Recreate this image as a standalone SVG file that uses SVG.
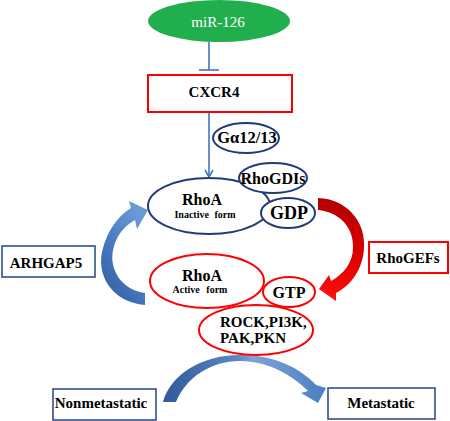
<svg xmlns="http://www.w3.org/2000/svg" width="450" height="421" viewBox="0 0 450 421">
<defs>
<style>
.t{font-family:"Liberation Serif","Times New Roman",serif;font-weight:bold;fill:#000;text-anchor:middle}
.nb{fill:#fff;stroke:#1F3C7A;stroke-width:2}
.nr{fill:#fff;stroke:#FF0000;stroke-width:2}
.bb{fill:#fff;stroke:#2F4F8F;stroke-width:1.6}
.br{fill:#fff;stroke:#FF0000;stroke-width:2}
.ln{stroke:#4472C4;stroke-width:1.6;fill:none}
</style>
<linearGradient id="gL" x1="0" y1="1" x2="0.6" y2="0">
<stop offset="0" stop-color="#2E5A99"/>
<stop offset="0.5" stop-color="#4678BE"/>
<stop offset="1" stop-color="#6A9AD6"/>
</linearGradient>
<linearGradient id="gR" x1="0" y1="0" x2="0" y2="1">
<stop offset="0" stop-color="#B00000"/>
<stop offset="0.6" stop-color="#E00000"/>
<stop offset="1" stop-color="#FF1010"/>
</linearGradient>
<linearGradient id="gB" x1="0" y1="0" x2="1" y2="0">
<stop offset="0" stop-color="#2E5A99"/>
<stop offset="0.45" stop-color="#5A86C4"/>
<stop offset="0.55" stop-color="#7FA3D6"/>
<stop offset="1" stop-color="#4A7EC4"/>
</linearGradient>
</defs>

<g id="connectors">
<line class="ln" x1="209" y1="42" x2="209" y2="70"/>
<line class="ln" x1="199" y1="70" x2="219" y2="70"/>
<line class="ln" x1="209" y1="112" x2="209" y2="176"/>
<polyline class="ln" points="205,170 209,177 213,170"/>
<path id="arrow-arhgap5" fill="url(#gL)" d="M145,305 C112,302 95,275 103,248 C108,230 118,216 131,208 L129,201 L148,210 L137,229 L135,220 C124,226 116,236 113,250 C109,270 122,290 145,293 Z"/>
<path id="arrow-rhogefs" fill="url(#gR)" d="M318,198 C347,199 366,222 364,248 C363,268 352,285 336,293 L336,301 L319,289 L329,275 L331,281 C344,274 353,262 353,248 C354,228 340,212 318,210 Z"/>
<path id="arrow-metastasis" fill="url(#gB)" d="M163,402 C170,376 200,355 240,355 C275,355 300,368 316,385 L326,388 L318,403 L301,393 L308,391 C292,375 268,361 240,361 C210,361 186,378 176,402 Z"/>
</g>

<g id="mir126">
<ellipse cx="219" cy="21" rx="71" ry="21" fill="#21AE4D"/>
<text x="218" y="27" style="font-family:'Liberation Serif','Times New Roman',serif;font-size:15px;fill:#fff;text-anchor:middle">miR-126</text>
</g>

<g id="cxcr4">
<rect class="br" x="148" y="75" width="144" height="37"/>
<text class="t" x="214" y="97" font-size="15">CXCR4</text>
</g>

<g id="ga1213">
<ellipse class="nb" cx="246" cy="138" rx="33" ry="15"/>
<text class="t" x="247" y="143" font-size="16.5">Gα12/13</text>
</g>

<g id="rhoa-inactive">
<ellipse class="nb" cx="209" cy="206" rx="61" ry="28"/>
<text class="t" x="202" y="205" font-size="16">RhoA</text>
<text class="t" x="205" y="218" font-size="10" word-spacing="3">Inactive form</text>
</g>

<g id="rhogdis">
<ellipse class="nb" cx="273" cy="178" rx="34" ry="15"/>
<text class="t" x="273" y="184" font-size="16">RhoGDIs</text>
</g>

<g id="gdp">
<ellipse class="nb" cx="288" cy="213" rx="27" ry="15"/>
<text class="t" x="289" y="219" font-size="18">GDP</text>
</g>

<g id="rhoa-active">
<ellipse class="nr" cx="207" cy="281" rx="57" ry="27"/>
<text class="t" x="202" y="281" font-size="16">RhoA</text>
<text class="t" x="200" y="293" font-size="10" word-spacing="4">Active form</text>
</g>

<g id="gtp">
<ellipse class="nr" cx="289" cy="292" rx="26" ry="15"/>
<text class="t" x="289" y="298" font-size="16">GTP</text>
</g>

<g id="effectors">
<ellipse class="nr" cx="256" cy="330" rx="57" ry="25"/>
<text class="t" x="220" y="327" font-size="15" style="text-anchor:start">ROCK,PI3K,</text>
<text class="t" x="220" y="343" font-size="15" style="text-anchor:start">PAK,PKN</text>
</g>

<g id="arhgap5">
<rect class="bb" x="2" y="246" width="93" height="31"/>
<text class="t" x="46" y="268" font-size="15">ARHGAP5</text>
</g>

<g id="rhogefs">
<rect class="br" x="369" y="242" width="79" height="31"/>
<text class="t" x="408" y="263" font-size="15">RhoGEFs</text>
</g>

<g id="nonmetastatic">
<rect class="bb" x="53" y="389" width="103" height="31"/>
<text class="t" x="101" y="408" font-size="15">Nonmetastatic</text>
</g>

<g id="metastatic">
<rect class="bb" x="328" y="388" width="107" height="31"/>
<text class="t" x="381" y="408" font-size="15">Metastatic</text>
</g>
</svg>
